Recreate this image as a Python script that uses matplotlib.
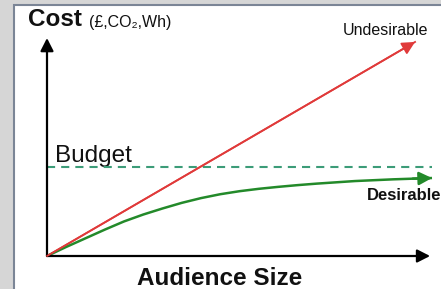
import matplotlib
matplotlib.use("Agg")
import matplotlib.pyplot as plt
from matplotlib.patches import Rectangle

# ---- data (conceptual diagram) ----
audience = [0, 0.5, 1, 1.5, 2, 2.5, 3, 3.5, 4, 4.5, 5, 5.5, 6, 6.5, 7, 7.5,
            8, 8.5, 9, 9.5, 10]
desirable = [0, 0.42, 0.82, 1.22, 1.60, 1.92, 2.20, 2.46, 2.68, 2.86, 3.00,
             3.11, 3.20, 3.28, 3.35, 3.41, 3.47, 3.51, 3.55, 3.58, 3.61]
undesirable_x = [0, 9.56]
undesirable_y = [0, 9.91]
budget = 4.12
x_axis_end = 9.95
y_axis_end = 10.09

W, H = 441, 289
plt.rcParams['font.family'] = ['Liberation Sans', 'DejaVu Sans']
fig = plt.figure(figsize=(W / 100, H / 100), dpi=100)
fig.patch.set_facecolor('#d6d6d6')

# white panel with border
fig.patches.append(Rectangle((13.5 / W, -0.1), 1.0, (H - 4.5) / H + 0.1,
                             transform=fig.transFigure, facecolor='white',
                             edgecolor='#7b8596', lw=1.5, zorder=-10))

ax = fig.add_axes([47 / W, (H - 256) / H, (432 - 47) / W, (256 - 40) / H])
ax.set_zorder(5)
ax.set_xlim(0, 10)
ax.set_ylim(0, 10)
ax.axis('off')
ax.patch.set_alpha(0)

def arrow(p0, p1, color, lw, ms=14):
    ax.annotate('', xy=p1, xytext=p0, annotation_clip=False,
                arrowprops=dict(arrowstyle='-|>,head_length=0.55,head_width=0.28',
                                color=color, lw=lw, shrinkA=0, shrinkB=0,
                                mutation_scale=ms))

# axes
arrow((0, 0), (0, y_axis_end), 'black', 1.6)
arrow((0, 0), (x_axis_end, 0), 'black', 1.6)

# budget line
ax.plot([0, 10], [budget, budget], color='#3c9c78', lw=1.5,
        dashes=(3.9, 2.9), clip_on=False)

# undesirable
ax.plot(undesirable_x, undesirable_y, color='#e03a3a', lw=1.3, clip_on=False)
arrow((undesirable_x[0], undesirable_y[0]), (undesirable_x[1], undesirable_y[1]),
      '#e03a3a', 1.3)

# desirable
ax.plot(audience, desirable, color='#238a2a', lw=1.8, clip_on=False,
        solid_capstyle='butt', solid_joinstyle='round')
arrow((audience[-2], desirable[-2]), (audience[-1], desirable[-1]), '#238a2a', 1.8)

def ftext(px, py, s, **kw):
    fig.text(px / W, 1 - py / H, s, va='baseline', color='#111111', **kw)

ftext(28, 26, 'Cost', fontsize=17.5, fontweight='bold')
ftext(89, 27, '(£,CO₂,Wh)', fontsize=11.5)
ftext(343, 35, 'Undesirable', fontsize=11.5)
ftext(55, 162, 'Budget', fontsize=17.5)
ftext(367, 200, 'Desirable', fontsize=12, fontweight='bold')
ftext(220, 285, 'Audience Size', fontsize=17.5, fontweight='bold', ha='center')

fig.savefig('out.png', dpi=100, facecolor=fig.get_facecolor())
